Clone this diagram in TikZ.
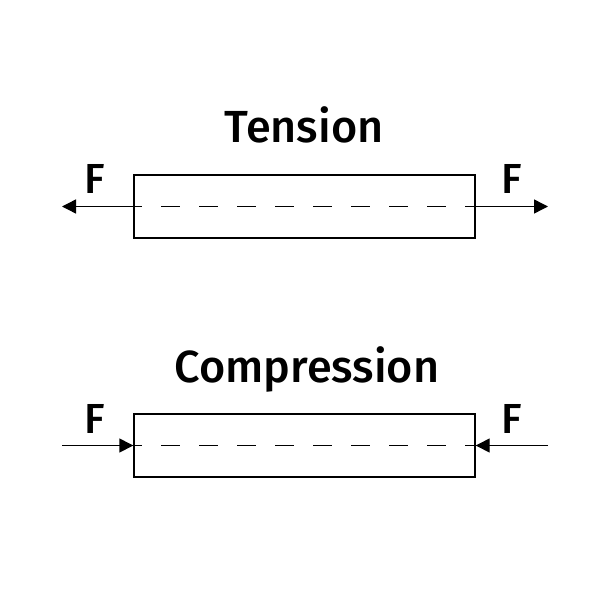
\documentclass[tikz,border=0pt]{standalone}
\usepackage{fontspec}
\setmainfont{Fira Sans}[BoldFont={* Medium}]
\usetikzlibrary{arrows.meta}

\tikzset{
  bar/.style={draw, line width=1.4pt, minimum width=341pt, minimum height=63pt, inner sep=0pt},
  force/.style={line width=1.4pt, -{Triangle[length=14pt,width=14pt]}},
  axis/.style={line width=1.4pt, dash pattern=on 19pt off 19pt, dash phase=10pt},
  title/.style={anchor=base, inner sep=0pt, font=\bfseries\fontsize{45}{48}\selectfont},
  flabel/.style={anchor=base, inner sep=0pt, font=\bfseries\fontsize{42}{46}\selectfont}
}

\begin{document}
\begin{tikzpicture}[x=1pt, y=-1pt]
    \useasboundingbox (0,0) rectangle (612,612);
    % tension
    \node[title] (ttitle) at (304,142.5) {Tension};
    \node[bar] (tbar) at (304.5,206.5) {};
    \coordinate (tleft) at (62,206.5);
    \coordinate (tright) at (548,206.5);
    \draw[axis] (tbar.west) -- (tbar.east);
    \draw[force] (tbar.west) -- (tleft);
    \draw[force] (tbar.east) -- (tright);
    \node[flabel] (tfl) at (95,194) {F};
    \node[flabel] (tfr) at (512,194) {F};
    % compression
    \node[title] (ctitle) at (307,382.5) {Compression};
    \node[bar] (cbar) at (304.5,445.5) {};
    \coordinate (cleft) at (62,445.5);
    \coordinate (cright) at (548,445.5);
    \draw[axis] (cbar.west) -- (cbar.east);
    \draw[force] (cleft) -- (cbar.west);
    \draw[force] (cright) -- (cbar.east);
    \node[flabel] (cfl) at (95,433) {F};
    \node[flabel] (cfr) at (512,433) {F};
  \end{tikzpicture}
\end{document}
